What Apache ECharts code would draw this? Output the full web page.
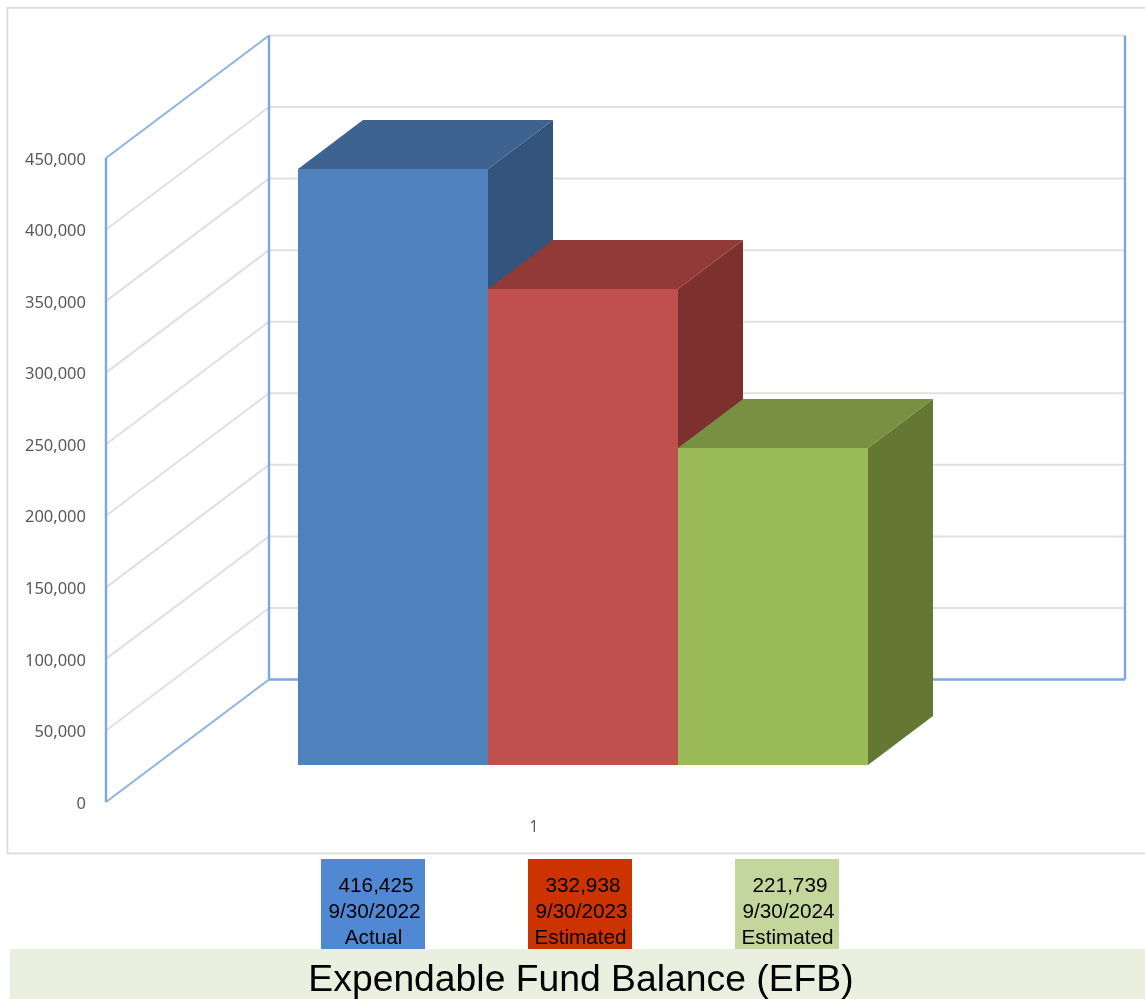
<!DOCTYPE html>
<html>
<head>
<meta charset="utf-8">
<title>Expendable Fund Balance (EFB)</title>
<script src="https://cdn.jsdelivr.net/npm/echarts@6/dist/echarts.min.js"></script>
<style>
  html, body { margin: 0; padding: 0; background: #fff; overflow: hidden; }
  #chart { width: 1145px; height: 999px; }
</style>
</head>
<body>
<div id="chart"></div>
<script>
// Fund balance by fiscal year end
const categories = ['1'];
const fundValues = [416425, 332938, 221739];
const fundDates = ['9/30/2022', '9/30/2023', '9/30/2024'];
const fundStatus = ['Actual', 'Estimated', 'Estimated'];
const axisTicks = [0, 50000, 100000, 150000, 200000, 250000, 300000, 350000, 400000, 450000];
const chartTitle = 'Expendable Fund Balance (EFB)';

// Face shades for each bar: front, top, side
const barShades = [
  ['#4F81BD', '#3E6390', '#32547D'],
  ['#C0504D', '#923A38', '#7D302E'],
  ['#9BBB59', '#779042', '#647833']
];
const boxColors = ['#5088D3', '#CC3300', '#C3D69B'];
const boxLeft = [321, 528, 735];

// Oblique projection of the chart's depth axis, in pixels
const depthX = 163;
const depthY = -122.5;
const barDepthStart = 0.3;
const barDepthEnd = 0.7;
const barBandShare = 0.222;

const gridLine = { stroke: '#E0E0E0', lineWidth: 2 };
const wallLine = { stroke: '#8DB3E2', lineWidth: 2 };
const wallEdge = { stroke: '#7DA7DF', lineWidth: 2.4 };

function polygon(points, style) {
  return { type: 'polygon', shape: { points: points }, style: style };
}
function line(a, b, style) {
  return { type: 'line', shape: { x1: a[0], y1: a[1], x2: b[0], y2: b[1] }, style: style };
}

// Walls of the plot box: one slanted and one horizontal line per tick
function renderGridLine(params, api) {
  const band = api.size([1, 0])[0];
  const base = api.coord([0, api.value(1)]);
  const left = base[0] - band / 2;
  const y = base[1];
  const back = [left + depthX, y + depthY];
  const children = [];
  if (api.value(1) > 0) {
    children.push(line([left, y], back, api.value(1) === 450000 ? wallLine : gridLine));
    children.push(line(back, [back[0] + band, back[1]], gridLine));
  } else {
    children.push(line([left, y], back, wallLine));
    children.push(line(back, [back[0] + band, back[1]], wallEdge));
  }
  return { type: 'group', children: children };
}

// Vertical blue edges of the box, spanning the first to the last tick
function renderEdges(params, api) {
  const band = api.size([1, 0])[0];
  const lo = api.coord([0, api.value(1)]);
  const hi = api.coord([0, api.value(2)]);
  const left = lo[0] - band / 2;
  return {
    type: 'group',
    children: [
      line([left, lo[1]], [left, hi[1]], wallEdge),
      line([left + depthX, lo[1] + depthY], [left + depthX, hi[1] + depthY], wallEdge),
      line([left + depthX + band, lo[1] + depthY], [left + depthX + band, hi[1] + depthY], wallEdge)
    ]
  };
}

// One extruded bar: position in the cluster comes from the series index.
// Horizontal face edges snap to whole pixels so neighbouring faces join cleanly.
function makeBarRenderer(index) {
  return function (params, api) {
    const band = api.size([1, 0])[0];
    const top = api.coord([0, api.value(1)]);
    const floor = api.coord([0, 0]);
    const w = band * barBandShare;
    const fx = depthX * barDepthStart;
    const fy = depthY * barDepthStart;
    const dx = depthX * (barDepthEnd - barDepthStart);
    const dy = Math.round(depthY * (barDepthEnd - barDepthStart));
    const x0 = Math.round(top[0] + fx - w * fundValues.length / 2 + w * index);
    const x1 = Math.round(top[0] + fx - w * fundValues.length / 2 + w * (index + 1));
    const xBack = Math.round(x1 + dx);
    const xBackLeft = Math.round(x0 + dx);
    const yTop = Math.round(top[1] + fy);
    const yBase = Math.round(floor[1] + fy);
    const shade = barShades[index];
    return {
      type: 'group',
      children: [
        polygon([[x1, yTop], [xBack, yTop + dy], [xBack, yBase + dy], [x1, yBase]], { fill: shade[2] }),
        polygon([[x0, yTop], [xBackLeft, yTop + dy], [xBack, yTop + dy], [x1, yTop]], { fill: shade[1] }),
        polygon([[x0, yTop], [x1, yTop], [x1, yBase], [x0, yBase]], { fill: shade[0] })
      ]
    };
  };
}

const barSeries = fundValues.map((v, i) => ({
  type: 'custom',
  name: fundDates[i],
  renderItem: makeBarRenderer(i),
  data: [[0, v]],
  z: 5 + i,
  silent: true
}));

// Caption boxes below the chart, with the title band underneath
const captionFont = '20.7px "Liberation Sans", Arial, sans-serif';
const captionGraphics = [];
fundValues.forEach((v, i) => {
  const cx = boxLeft[i] + 52;
  captionGraphics.push({
    type: 'rect', left: boxLeft[i], top: 859,
    shape: { width: 104, height: 90 },
    style: { fill: boxColors[i] }
  });
  const rows = [[v.toLocaleString('en-US'), 3, 886], [fundDates[i], 1.5, 912], [fundStatus[i], 0.5, 938]];
  rows.forEach(r => {
    captionGraphics.push({
      type: 'text', x: cx + r[1], y: r[2], z: 20,
      style: { text: r[0], font: captionFont, fill: '#000', align: 'center', verticalAlign: 'middle' }
    });
  });
});

const chart = echarts.init(document.getElementById('chart'), null, { renderer: 'canvas' });
chart.setOption({
  animation: false,
  backgroundColor: '#ffffff',
  grid: { left: 106, top: 158, width: 856, height: 644, containLabel: false },
  xAxis: {
    type: 'category',
    data: categories,
    axisLine: { show: false },
    axisTick: { show: false },
    axisLabel: { color: '#595959', fontSize: 15.5, fontFamily: 'Noto Sans', margin: 18 }
  },
  yAxis: {
    type: 'value',
    min: 0,
    max: 450000,
    interval: 50000,
    axisLine: { show: false },
    axisTick: { show: false },
    splitLine: { show: false },
    axisLabel: {
      color: '#595959',
      fontSize: 16.5,
      fontFamily: 'Noto Sans',
      margin: 20,
      verticalAlign: 'top',
      lineHeight: 4,
      formatter: v => v.toLocaleString('en-US')
    }
  },
  graphic: {
    elements: [
      {
        type: 'rect', left: 6.5, top: 7, z: -1, silent: true,
        shape: { width: 1160, height: 845.5 },
        style: { fill: '#fff', stroke: '#DCDCDC', lineWidth: 1.8 }
      },
      ...captionGraphics,
      {
        type: 'rect', left: 10, top: 949, z: 15,
        shape: { width: 1135, height: 50 },
        style: { fill: '#EBEFDF' }
      },
      {
        type: 'text', x: 581, y: 981, z: 20,
        style: {
          text: chartTitle,
          font: '37.3px "Liberation Sans", Arial, sans-serif',
          fill: '#000', align: 'center', verticalAlign: 'middle'
        }
      }
    ]
  },
  series: [
    {
      type: 'custom',
      name: 'gridlines',
      renderItem: renderGridLine,
      data: axisTicks.map(v => [0, v]),
      z: 2,
      silent: true
    },
    {
      type: 'custom',
      name: 'edges',
      renderItem: renderEdges,
      data: [[0, axisTicks[0], axisTicks[axisTicks.length - 1]]],
      z: 3,
      silent: true
    },
    ...barSeries
  ]
});
</script>
</body>
</html>
